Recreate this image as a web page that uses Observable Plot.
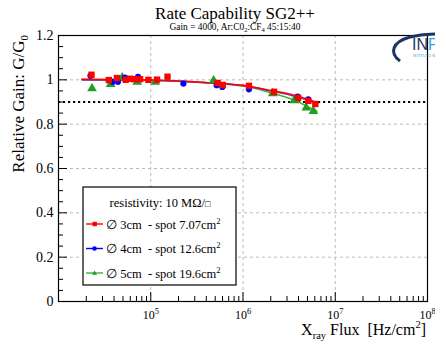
<!DOCTYPE html>
<html><head><meta charset="utf-8">
<script src="https://cdn.jsdelivr.net/npm/d3@7"></script>
<script src="https://cdn.jsdelivr.net/npm/@observablehq/plot@0.6"></script>
<style>body{margin:0;background:#fff;} #chart{position:relative;width:435px;height:343px;}</style>
</head><body><div id="chart"></div>
<script>
// ---- data ----
const fluxRed = [2.28e4, 3.51e4, 4.30e4, 5.35e4, 5.96e4, 6.59e4, 7.66e4, 9.44e4, 1.17e5, 1.52e5, 5.31e5, 6.03e5, 1.16e6, 2.17e6, 3.96e6, 5.10e6, 6.08e6];
const gainRed = [1.023, 0.999, 1.008, 1.000, 1.005, 1.003, 1.003, 1.000, 1.001, 1.014, 0.986, 0.977, 0.973, 0.946, 0.919, 0.905, 0.891];
const fluxBlue = [2.22e4, 3.89e4, 4.41e4, 5.25e4, 7.28e4, 2.26e5, 5.18e5, 5.97e5, 1.16e6, 3.90e6, 5.10e6];
const gainBlue = [1.018, 0.991, 0.991, 1.010, 1.014, 0.983, 0.976, 0.968, 0.957, 0.924, 0.912];
const fluxGreen = [2.31e4, 3.67e4, 4.90e4, 7.14e4, 1.12e5, 4.80e5, 2.10e6, 3.60e6, 4.85e6, 5.80e6];
const gainGreen = [0.961, 0.980, 1.010, 0.991, 0.990, 0.997, 0.939, 0.907, 0.874, 0.859];
// fit curves
const fitFluxRed = [1.8e4, 1e5, 3e5, 1e6, 2e6, 3e6, 4e6, 5e6, 6.5e6];
const fitGainRed = [1.002, 0.999, 0.991, 0.975, 0.952, 0.938, 0.925, 0.912, 0.895];
const fitFluxBlue = [1.8e4, 1e5, 3e5, 1e6, 2e6, 3e6, 4e6, 5e6, 6e6];
const fitGainBlue = [1.001, 0.998, 0.990, 0.974, 0.950, 0.935, 0.921, 0.908, 0.896];
const fitFluxGreen = [1.8e4, 1e5, 3e5, 1e6, 2e6, 3e6, 4e6, 5e6, 6.3e6];
const fitGainGreen = [1.000, 0.997, 0.990, 0.972, 0.942, 0.920, 0.900, 0.880, 0.858];
const threshold = [0.9];
const xMajor = [1e4, 1e5, 1e6, 1e7, 1e8];
const yMajor = [0, 0.2, 0.4, 0.6, 0.8, 1, 1.2];
const yTickLabels = ["0", "0.2", "0.4", "0.6", "0.8", "1", "1.2"];
const seriesNames = ["\u2205 3cm  - spot 7.07cm", "\u2205 4cm  - spot 12.6cm", "\u2205 5cm  - spot 19.6cm"];
const title = "Rate Capability SG2++";

const RED = "#ff0000", BLUE = "#0000ff", GREEN = "#1f9e1f", GREENL = "#3cb43c";
const xMinor = [];
for (const d of [1e4, 1e5, 1e6, 1e7]) for (let k = 2; k <= 9; k++) xMinor.push(k * d);
const yMinor = d3.range(0, 1.2001, 0.05).filter(v => Math.abs(v * 5 - Math.round(v * 5)) > 1e-6);

const pts = (xs, ys) => xs.map((x, i) => ({x, y: ys[i]}));
const red = pts(fluxRed, gainRed), blue = pts(fluxBlue, gainBlue), green = pts(fluxGreen, gainGreen);
const fRed = pts(fitFluxRed, fitGainRed), fBlue = pts(fitFluxBlue, fitGainBlue), fGreen = pts(fitFluxGreen, fitGainGreen);

const font = "Liberation Serif";
const plot = Plot.plot({
  width: 435, height: 343,
  marginLeft: 58, marginRight: 8, marginTop: 35, marginBottom: 42,
  x: {type: "log", domain: [1e4, 1e8]},
  y: {domain: [0, 1.2]},
  style: {fontFamily: font, background: "white", color: "black"},
  marks: [
    Plot.gridX({ticks: xMajor.slice(1, 4), stroke: "#bbb", strokeOpacity: 1, strokeDasharray: "3,3"}),
    Plot.gridY({ticks: yMajor.slice(1, 6), stroke: "#bbb", strokeOpacity: 1, strokeDasharray: "3,3"}),
    Plot.ruleY(threshold, {stroke: "black", strokeWidth: 2, strokeDasharray: "2.2,2.8"}),
    Plot.line(fGreen, {x: "x", y: "y", stroke: GREENL, strokeWidth: 1.6, curve: "catmull-rom"}),
    Plot.line(fBlue, {x: "x", y: "y", stroke: "#5050ff", strokeWidth: 1.6, curve: "catmull-rom"}),
    Plot.line(fRed, {x: "x", y: "y", stroke: RED, strokeWidth: 1.6, curve: "catmull-rom"}),
    Plot.dot(green, {x: "x", y: "y", symbol: "triangle", r: 3.6, fill: GREEN, stroke: "none"}),
    Plot.dot(blue, {x: "x", y: "y", symbol: "circle", r: 3.1, fill: BLUE, stroke: "none"}),
    Plot.dot(red, {x: "x", y: "y", symbol: "square", r: 3.6, fill: RED, stroke: "none"}),
    Plot.frame({stroke: "black", strokeWidth: 1.2}),
    Plot.axisX({ticks: xMajor, tickSize: -9, tickFormat: () => "", label: null}),
    Plot.axisX({ticks: xMinor, tickSize: -5, tickFormat: () => "", label: null}),
    Plot.axisX({ticks: xMajor.slice(1), tickSize: 0, tickPadding: 9, fontSize: 12, tickFormat: d => String(Math.round(Math.log10(d))), label: null}),
    Plot.axisY({ticks: yMajor, tickSize: -9, tickFormat: () => "", label: null}),
    Plot.axisY({ticks: yMinor, tickSize: -5, tickFormat: () => "", label: null}),
    Plot.axisY({ticks: yMajor, tickSize: 0, tickPadding: 5, fontSize: 14, tickFormat: (d, i) => yTickLabels[i], label: null})
  ]
});
document.getElementById("chart").appendChild(plot);

const svg = d3.select(plot);
// superscript decade labels
svg.selectAll('g[aria-label="x-axis tick label"] text').each(function() {
  const t = d3.select(this); const e = t.text();
  if (!e) return;
  t.text("10");
  t.append("tspan").attr("dy", "-0.55em").attr("font-size", "8.5px").text(e);
});

const deco = svg.append("g").attr("text-anchor", "start").attr("font-family", font);
// title & subtitle
deco.append("text").attr("x", 235).attr("y", 18.5).attr("text-anchor", "middle")
  .attr("font-size", 17).text(title);
const sub = deco.append("text").attr("x", 235).attr("y", 30).attr("text-anchor", "middle")
  .attr("font-size", 9.4);
sub.append("tspan").text("Gain = 4000, Ar:C0");
sub.append("tspan").attr("font-size", 6.5).attr("dy", 2).text("2");
sub.append("tspan").attr("dy", -2).text(":CF");
sub.append("tspan").attr("font-size", 6.5).attr("dy", 2).text("4");
sub.append("tspan").attr("dy", -2).text(" 45:15:40");

// y label
const yl = deco.append("text").attr("transform", "translate(24,35) rotate(-90)").attr("text-anchor", "end")
  .attr("font-size", 17);
yl.append("tspan").text("Relative Gain: G/G");
yl.append("tspan").attr("font-size", 11).attr("dy", 4).text("0");

// x label
const xl = deco.append("text").attr("x", 426).attr("y", 335).attr("text-anchor", "end")
  .attr("font-size", 16);
xl.append("tspan").text("X");
xl.append("tspan").attr("font-size", 10.5).attr("dy", 4).text("ray");
xl.append("tspan").attr("dy", -4).text(" Flux  [Hz/cm");
xl.append("tspan").attr("font-size", 10.5).attr("dy", -7).text("2");
xl.append("tspan").attr("dy", 7).text("]");

// INFN logo (partial, clipped by the page edge as in the reference)
const logo = deco.append("g");
logo.append("path").attr("d", "M400,61 C389,53 392,42 410,37 C418,35 428,34 435,34").attr("fill", "none").attr("stroke", "#1c3466").attr("stroke-width", 3);
const lt = logo.append("text").attr("x", 412).attr("y", 50).attr("font-family", "Liberation Sans").attr("font-size", 16).attr("text-anchor", "start");
lt.append("tspan").attr("fill", "#1c3466").text("IN");
lt.append("tspan").attr("fill", "#3a9fd6").text("FN");
logo.append("text").attr("x", 413).attr("y", 57).attr("font-family", "Liberation Sans").attr("font-size", 4).attr("fill", "#3a9fd6").attr("text-anchor", "start").text("ISTITUTO NAZIONALE");

// legend box
const lg = deco.append("g");
lg.append("rect").attr("x", 83).attr("y", 187).attr("width", 153).attr("height", 98).attr("fill", "white").attr("stroke", "black").attr("stroke-width", 1.2);
const ltt = lg.append("text").attr("x", 160).attr("y", 207).attr("text-anchor", "middle").attr("font-size", 12.5);
ltt.append("tspan").text("resistivity: 10 M\u03A9/");
ltt.append("tspan").attr("font-size", 9).text("\u25A1");
const cols = [RED, BLUE, GREENL], mcols = [RED, BLUE, GREEN];
seriesNames.forEach((name, i) => {
  const yy = 224 + i * 24.5;
  lg.append("line").attr("x1", 86).attr("x2", 103).attr("y1", yy).attr("y2", yy).attr("stroke", cols[i]).attr("stroke-width", 1.4);
  if (i === 0) lg.append("rect").attr("x", 92.5).attr("y", yy - 2.2).attr("width", 4.4).attr("height", 4.4).attr("fill", mcols[i]);
  if (i === 1) lg.append("circle").attr("cx", 94.5).attr("cy", yy).attr("r", 2.3).attr("fill", mcols[i]);
  if (i === 2) lg.append("path").attr("d", `M${94.5},${yy - 2.6} L${97},${yy + 1.8} L${92},${yy + 1.8} Z`).attr("fill", mcols[i]);
  const t = lg.append("text").attr("x", 106).attr("y", yy + 4.5).attr("text-anchor", "start").attr("font-size", 12.5);
  t.append("tspan").text(name);
  t.append("tspan").attr("font-size", 8.5).attr("dy", -5).text("2");
});
</script>
</body></html>
